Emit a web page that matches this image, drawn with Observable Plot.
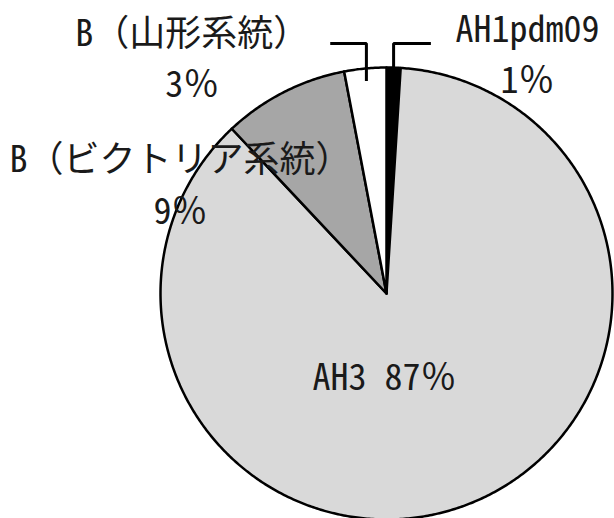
<!DOCTYPE html>
<html>
<head>
<meta charset="utf-8">
<script src="https://cdn.jsdelivr.net/npm/d3@7"></script>
<script src="https://cdn.jsdelivr.net/npm/@observablehq/plot@0.6"></script>
<style>
  html, body { margin: 0; padding: 0; background: #fff; }
  #chart svg { display: block; }
</style>
</head>
<body>
<div id="chart"></div>
<script>
// ---- data ----
const categories = ["AH1pdm09", "AH3", "B（ビクトリア系統）", "B（山形系統）"];
const shares = [1, 87, 9, 3];
const pctLabels = ["1％", "87％", "9％", "3％"];
const nameLabels = ["AH1pdm09", "AH3", "B（ビクトリア系統）", "B（山形系統）"];
const fills = ["#000000", "#d9d9d9", "#a6a6a6", "#ffffff"];

// ---- layout (unit-circle coordinates, not data) ----
const labelX = [0.624, -0.009, -0.912, -0.86];
const labelY = [1.052, -0.376, 0.473, 1.033];
const inlineLabel = [false, true, false, false];
const leaderFor = [0, 3];          // slices with bracket leader lines
const leaderInner = [1.0, 0.945];  // radius where leader touches the slice
const leaderTop = 1.106;           // height of bracket
const leaderArm = [0.165, -0.16];  // horizontal arm length (+right / -left)

// ---- geometry via d3.pie ----
const arcs = d3.pie().sort(null).value(d => d)(shares);
const slicePts = [];
arcs.forEach((a, i) => {
  const n = Math.max(2, Math.ceil((a.endAngle - a.startAngle) / (Math.PI / 360)));
  slicePts.push({name: categories[i], x: 0, y: 0});
  for (let k = 0; k <= n; k++) {
    const t = a.startAngle + (a.endAngle - a.startAngle) * k / n;
    slicePts.push({name: categories[i], x: Math.sin(t), y: Math.cos(t)});
  }
  slicePts.push({name: categories[i], x: 0, y: 0});
});

const leaderPts = [];
leaderFor.forEach((i, j) => {
  const a = arcs[i];
  const m = (a.startAngle + a.endAngle) / 2;
  const x0 = Math.sin(m) * leaderInner[j];
  const y0 = Math.cos(m) * leaderInner[j];
  leaderPts.push({id: j, x: x0, y: y0});
  leaderPts.push({id: j, x: x0, y: leaderTop});
  leaderPts.push({id: j, x: x0 + leaderArm[j], y: leaderTop});
});

const labels = categories.map((c, i) => ({
  name: c,
  text: inlineLabel[i] ? `${nameLabels[i]} ${pctLabels[i]}` : `${nameLabels[i]}\n${pctLabels[i]}`,
  x: labelX[i],
  y: labelY[i]
}));

const R = 226, cx = 386, cy = 293;
const chart = Plot.plot({
  width: 614,
  height: 518,
  margin: 0,
  x: {domain: [-1, 1], range: [cx - R, cx + R], axis: null},
  y: {domain: [-1, 1], range: [cy + R, cy - R], axis: null},
  color: {domain: categories, range: fills},
  style: {fontFamily: "'Noto Sans Mono CJK JP', 'Noto Sans CJK JP', sans-serif", background: "#fff"},
  marks: [
    Plot.line(slicePts, {x: "x", y: "y", z: "name", fill: "name", stroke: "#000", strokeWidth: 2.5, strokeLinejoin: "round"}),
    Plot.line(leaderPts, {x: "x", y: "y", z: "id", stroke: "#000", strokeWidth: 3, strokeLinecap: "butt", strokeLinejoin: "miter"}),
    Plot.text(labels, {x: "x", y: "y", text: "text", fontSize: 36, lineHeight: 1.42, lineAnchor: "middle", textAnchor: "middle", dy: -5, fill: "#1a1a1a"})
  ]
});
document.getElementById("chart").appendChild(chart);
</script>
</body>
</html>
